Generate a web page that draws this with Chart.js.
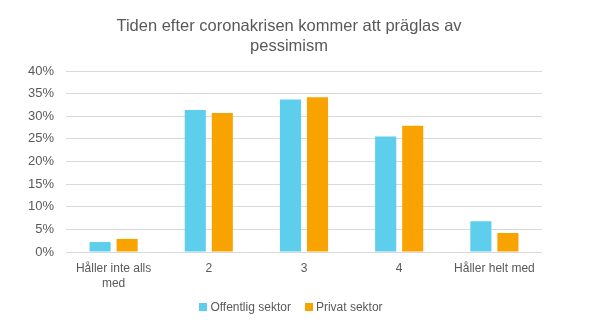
<!DOCTYPE html>
<html>
<head>
<meta charset="utf-8">
<script src="https://cdn.jsdelivr.net/npm/chart.js@4"></script>
<style>
  html, body { margin: 0; padding: 0; background: #fff; }
  #wrap { position: relative; width: 612px; height: 329px; font-family: "Liberation Sans", Arial, sans-serif; }
  #title { position: absolute; left: 89px; top: 14.5px; width: 400px; text-align: center;
           font-size: 16.5px; line-height: 20px; color: #595959; }
  #legend { position: absolute; left: 0; top: 300px; width: 582px; text-align: center;
            font-size: 12px; color: #595959; }
  #legend span.item { display: inline-block; margin: 0 7px; }
  #legend span.box { display: inline-block; width: 8px; height: 8px; margin-right: 3px; vertical-align: 0px; }
</style>
</head>
<body>
<div id="wrap">
  <canvas id="myChart" width="612" height="329"></canvas>
  <div id="title">Tiden efter coronakrisen kommer att präglas av<br>pessimism</div>
  <div id="legend"></div>
</div>
<script>
 // Categories and values (percent)
 const categories = [['Håller inte alls', 'med'], '2', '3', '4', 'Håller helt med'];
 const offentlig = [2.2, 31.4, 33.7, 25.5, 6.8];
 const privat = [2.9, 30.7, 34.2, 27.9, 4.2];
 const seriesNames = ['Offentlig sektor', 'Privat sektor'];
 const seriesColors = ['#5DCEEB', '#F9A300'];

 const ctx = document.getElementById('myChart').getContext('2d');
 const myChart = new Chart(ctx, {
   type: 'bar',
   data: {
     labels: categories,
     datasets: [
       { label: seriesNames[0], data: offentlig, backgroundColor: seriesColors[0] },
       { label: seriesNames[1], data: privat, backgroundColor: seriesColors[1] }
     ]
   },
   options: {
     responsive: false,
     animation: false,
     categoryPercentage: 0.568,
     barPercentage: 0.78,
     layout: { padding: { top: 71, right: 70, left: 0, bottom: 0 } },
     plugins: {
       legend: { display: false },
       title: { display: false },
       tooltip: { enabled: false }
     },
     scales: {
       x: {
         grid: { display: false },
         border: { display: false },
         ticks: {
           color: '#595959',
           padding: 1,
           maxRotation: 0,
           autoSkip: false,
           font: { family: '"Liberation Sans", Arial, sans-serif', size: 12, lineHeight: 1.25 }
         },
         afterFit: function(scale) { scale.height = 77; }
       },
       y: {
         min: 0,
         max: 40,
         grid: { color: '#D9D9D9', drawTicks: false },
         border: { display: false },
         ticks: {
           stepSize: 5,
           color: '#595959',
           padding: 12,
           font: { family: '"Liberation Sans", Arial, sans-serif', size: 13 },
           callback: function(v) { return v + '%'; }
         },
         afterFit: function(scale) { scale.width = 66; }
       }
     }
   }
 });

 // Legend built from the chart's datasets
 const legend = document.getElementById('legend');
 myChart.data.datasets.forEach(function(ds) {
   const item = document.createElement('span');
   item.className = 'item';
   const box = document.createElement('span');
   box.className = 'box';
   box.style.background = ds.backgroundColor;
   item.appendChild(box);
   item.appendChild(document.createTextNode(ds.label));
   legend.appendChild(item);
 });
</script>
</body>
</html>
